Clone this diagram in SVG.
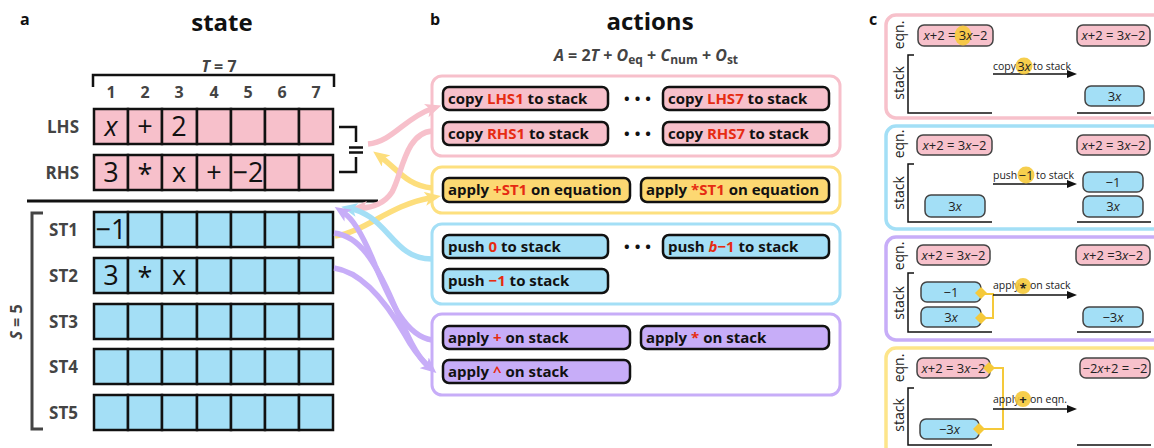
<svg xmlns="http://www.w3.org/2000/svg" width="1154" height="448" viewBox="0 0 1154 448">
<style>
text{font-family:'Open Sans','Noto Sans','DejaVu Sans',sans-serif;}
.plab{font-weight:700;font-size:16px;fill:#111}
.title{font-weight:700;font-size:24px;fill:#111;text-anchor:middle}
.hdr{font-weight:700;font-size:16px;fill:#444;text-anchor:middle}
.row{font-weight:700;font-size:17px;fill:#444;text-anchor:end}
.sym{font-size:27px;fill:#111;text-anchor:middle}
.grp{fill:#fff;stroke-width:3}
.btn{stroke:#111;stroke-width:2.5}
.bt{font-weight:700;font-size:15px;fill:#111}
.red{fill:#e62b12}
.ce{fill:#f7c1cb;stroke:#444;stroke-width:1.5}
.cs{fill:#a3dff6;stroke:#444;stroke-width:1.5}
.ct{font-size:13px;fill:#222;text-anchor:middle}
.al{font-size:10.5px;fill:#222}
.ax{font-size:14px;fill:#222;text-anchor:middle}
.hl{fill:#f5c93a;opacity:.9}
.dm{fill:#f5c93a}
.yl{fill:none;stroke:#f5c93a;stroke-width:2}
.conn{fill:none;stroke-width:5.5}
.brk{fill:none;stroke:#111;stroke-width:2.5}
.base{fill:none;stroke:#111;stroke-width:1.5}
.arr{stroke:#111;stroke-width:1.6}
</style>
<defs>
  <g id="cells">
    <rect x="94" y="0" width="34" height="35"/>
    <rect x="128" y="0" width="34" height="35"/>
    <rect x="162" y="0" width="35" height="35"/>
    <rect x="197" y="0" width="34" height="35"/>
    <rect x="231" y="0" width="34" height="35"/>
    <rect x="265" y="0" width="34" height="35"/>
    <rect x="299" y="0" width="34" height="35"/>
  </g>
  <marker id="hP" viewBox="0 0 16 14" markerWidth="16" markerHeight="14" markerUnits="userSpaceOnUse" refX="5" refY="7" orient="auto"><path d="M0,0 L16,7 L0,14 L4,7 z" fill="#f7c0cb"/></marker>
  <marker id="hY" viewBox="0 0 16 14" markerWidth="16" markerHeight="14" markerUnits="userSpaceOnUse" refX="5" refY="7" orient="auto"><path d="M0,0 L16,7 L0,14 L4,7 z" fill="#fdde7c"/></marker>
  <marker id="hB" viewBox="0 0 16 14" markerWidth="16" markerHeight="14" markerUnits="userSpaceOnUse" refX="5" refY="7" orient="auto"><path d="M0,0 L16,7 L0,14 L4,7 z" fill="#a4dff6"/></marker>
  <marker id="hV" viewBox="0 0 16 14" markerWidth="16" markerHeight="14" markerUnits="userSpaceOnUse" refX="5" refY="7" orient="auto"><path d="M0,0 L16,7 L0,14 L4,7 z" fill="#c7adf8"/></marker>
  <marker id="hK" viewBox="0 0 10 8" markerWidth="10" markerHeight="8" markerUnits="userSpaceOnUse" refX="1" refY="4" orient="auto"><path d="M0,0 L10,4 L0,8 z" fill="#111"/></marker>
</defs>

<!-- panel a: state -->
<g id="state">
  <text class="plab" x="20" y="25">a</text>
  <text class="title" x="222" y="31">state</text>
  <text class="hdr" x="219" y="72"><tspan font-style="italic">T</tspan> = 7</text>
  <path class="brk" d="M93,87 V75 H334 V87" stroke="#333"/>
  <g class="hdr">
    <text x="111" y="98">1</text><text x="145" y="98">2</text><text x="179" y="98">3</text>
    <text x="214" y="98">4</text><text x="248" y="98">5</text><text x="282" y="98">6</text><text x="316" y="98">7</text>
  </g>
  <g id="lhs">
    <text class="row" x="79" y="133">LHS</text>
    <use href="#cells" y="109" fill="#f7c0cb" stroke="#111" stroke-width="2.5"/>
    <text class="sym" x="111" y="136" font-style="italic">x</text>
    <text class="sym" x="145" y="136">+</text>
    <text class="sym" x="179" y="136">2</text>
  </g>
  <g id="rhs">
    <text class="row" x="79" y="179">RHS</text>
    <use href="#cells" y="155" fill="#f7c0cb" stroke="#111" stroke-width="2.5"/>
    <text class="sym" x="111" y="182">3</text>
    <text class="sym" x="145" y="184">*</text>
    <text class="sym" x="179" y="182">x</text>
    <text class="sym" x="214" y="182">+</text>
    <text class="sym" x="248" y="182">−2</text>
  </g>
  <g id="equals">
    <path class="brk" d="M339,127 H356 V142 M356,157 V172 H339"/>
    <path class="brk" d="M349,147.5 H363 M349,152.5 H363" stroke-width="2"/>
  </g>
  <line x1="27" y1="201" x2="378" y2="201" stroke="#111" stroke-width="3"/>
  <g id="stack">
    <path d="M43,213 H32 V429 H43" fill="none" stroke="#444" stroke-width="3"/>
    <text class="hdr" font-size="18" transform="translate(22,322) rotate(-90)"><tspan font-style="italic">S</tspan> = 5</text>
    <text class="row" x="78" y="236">ST1</text>
    <text class="row" x="78" y="282">ST2</text>
    <text class="row" x="78" y="328">ST3</text>
    <text class="row" x="78" y="373">ST4</text>
    <text class="row" x="78" y="419">ST5</text>
    <use href="#cells" y="212" fill="#a4dff6" stroke="#111" stroke-width="2.5"/>
    <use href="#cells" y="258" fill="#a4dff6" stroke="#111" stroke-width="2.5"/>
    <use href="#cells" y="304" fill="#a4dff6" stroke="#111" stroke-width="2.5"/>
    <use href="#cells" y="349" fill="#a4dff6" stroke="#111" stroke-width="2.5"/>
    <use href="#cells" y="395" fill="#a4dff6" stroke="#111" stroke-width="2.5"/>
    <text class="sym" x="111" y="239">−1</text>
    <text class="sym" x="111" y="285">3</text>
    <text class="sym" x="145" y="287">*</text>
    <text class="sym" x="179" y="285">x</text>
  </g>
</g>

<!-- panel b: actions -->
<g id="actions">
  <text class="plab" x="430" y="25">b</text>
  <text class="title" x="650" y="30">actions</text>
  <text class="hdr" x="646" y="61"><tspan font-style="italic">A</tspan> = 2<tspan font-style="italic">T</tspan> + <tspan font-style="italic">O</tspan><tspan font-size="12" dy="3">eq</tspan><tspan dy="-3"> + </tspan><tspan font-style="italic">C</tspan><tspan font-size="12" dy="3">num</tspan><tspan dy="-3"> + </tspan><tspan font-style="italic">O</tspan><tspan font-size="12" dy="3">st</tspan></text>

  <g id="copy-actions">
    <rect class="grp" x="432" y="76" width="408" height="80" rx="10" stroke="#f7c0cb"/>
    <rect class="btn" x="443" y="87" width="165" height="23" rx="6" fill="#f7c0cb"/>
    <text class="bt" x="448" y="104">copy <tspan class="red">LHS1</tspan> to stack</text>
    <text class="bt" x="640" y="104" text-anchor="middle" letter-spacing="5">•••</text>
    <rect class="btn" x="663" y="87" width="166" height="23" rx="6" fill="#f7c0cb"/>
    <text class="bt" x="668" y="104">copy <tspan class="red">LHS7</tspan> to stack</text>
    <rect class="btn" x="443" y="122" width="165" height="23" rx="6" fill="#f7c0cb"/>
    <text class="bt" x="448" y="139">copy <tspan class="red">RHS1</tspan> to stack</text>
    <text class="bt" x="640" y="139" text-anchor="middle" letter-spacing="5">•••</text>
    <rect class="btn" x="663" y="122" width="166" height="23" rx="6" fill="#f7c0cb"/>
    <text class="bt" x="668" y="139">copy <tspan class="red">RHS7</tspan> to stack</text>
  </g>

  <g id="equation-actions">
    <rect class="grp" x="432" y="167" width="408" height="46" rx="10" stroke="#fde07f"/>
    <rect class="btn" x="443" y="178" width="187" height="24" rx="6" fill="#fcd872"/>
    <text class="bt" x="448" y="195">apply <tspan class="red">+ST1</tspan> on equation</text>
    <rect class="btn" x="641" y="178" width="188" height="24" rx="6" fill="#fcd872"/>
    <text class="bt" x="646" y="195">apply <tspan class="red">*ST1</tspan> on equation</text>
  </g>

  <g id="push-actions">
    <rect class="grp" x="432" y="224" width="408" height="80" rx="10" stroke="#a4dff6"/>
    <rect class="btn" x="443" y="235" width="165" height="23" rx="6" fill="#a4dff6"/>
    <text class="bt" x="448" y="252">push <tspan class="red">0</tspan> to stack</text>
    <text class="bt" x="640" y="252" text-anchor="middle" letter-spacing="5">•••</text>
    <rect class="btn" x="663" y="235" width="166" height="23" rx="6" fill="#a4dff6"/>
    <text class="bt" x="668" y="252">push <tspan class="red"><tspan font-style="italic">b</tspan>−1</tspan> to stack</text>
    <rect class="btn" x="443" y="269" width="165" height="24" rx="6" fill="#a4dff6"/>
    <text class="bt" x="448" y="286">push <tspan class="red">−1</tspan> to stack</text>
  </g>

  <g id="stack-actions">
    <rect class="grp" x="432" y="314" width="408" height="81" rx="10" stroke="#c7adf8"/>
    <rect class="btn" x="443" y="326" width="187" height="23" rx="6" fill="#c7adf8"/>
    <text class="bt" x="448" y="343">apply <tspan class="red">+</tspan> on stack</text>
    <rect class="btn" x="641" y="326" width="188" height="23" rx="6" fill="#c7adf8"/>
    <text class="bt" x="646" y="343">apply <tspan class="red">*</tspan> on stack</text>
    <rect class="btn" x="443" y="360" width="187" height="23" rx="6" fill="#c7adf8"/>
    <text class="bt" x="448" y="377">apply <tspan class="red">^</tspan> on stack</text>
  </g>
</g>

<!-- connectors between state and actions -->
<g id="connectors">
  <path class="conn" stroke="#fdde7c" d="M432,188 C408,186 398,170 382,158" marker-end="url(#hY)"/>
  <path class="conn" stroke="#fdde7c" d="M335,236 C365,232 390,205 430,198" marker-end="url(#hY)"/>
  <path class="conn" stroke="#f7c0cb" d="M368,144 C392,142 405,118 431,109" marker-end="url(#hP)"/>
  <path class="conn" stroke="#f7c0cb" d="M432,131 C405,133 402,175 392,192 C385,203 372,208 362,208" marker-end="url(#hP)"/>
  <path class="conn" stroke="#a4dff6" d="M432,259 C400,259 392,232 370,217 C362,212 357,210 352,209" marker-end="url(#hB)"/>
  <path class="conn" stroke="#c7adf8" d="M334,268 C362,272 385,300 405,335 C412,348 420,358 428,366"/>
  <path class="conn" stroke="#c7adf8" d="M334,233 C360,236 375,262 392,300 C405,330 415,355 428,366" marker-end="url(#hV)"/>
  <path class="conn" stroke="#c7adf8" d="M432,340 C405,336 390,300 375,265 C365,240 355,220 344,213" marker-end="url(#hV)"/>
</g>

<!-- panel c: worked steps -->
<text class="plab" x="869" y="25">c</text>

<g id="step-copy">
  <rect x="886" y="15" width="290" height="103" rx="10" fill="#fff" stroke="#f7c1cb" stroke-width="3.5"/>
  <text class="ax" transform="translate(904,35) rotate(-90)">eqn.</text>
  <text class="ax" transform="translate(904,83) rotate(-90)">stack</text>
  <path class="base" d="M914,55 H908 V113 H992 M1077,113 H1151"/>
  <rect class="ce" x="918" y="25" width="75" height="21" rx="6"/>
  <ellipse class="hl" cx="963" cy="35.5" rx="8.5" ry="10"/>
  <text class="ct" x="955.5" y="40"><tspan font-style="italic">x</tspan>+2 = 3<tspan font-style="italic">x</tspan>−2</text>
  <rect class="ce" x="1077" y="25" width="73" height="21" rx="6"/>
  <text class="ct" x="1113.5" y="40"><tspan font-style="italic">x</tspan>+2 = 3<tspan font-style="italic">x</tspan>−2</text>
  <line class="arr" x1="993" y1="74" x2="1068" y2="74" marker-end="url(#hK)"/>
  <text class="al" x="993" y="70">copy</text>
  <circle class="hl" cx="1024" cy="66" r="8.5"/>
  <text class="ct" x="1024" y="71">3<tspan font-style="italic">x</tspan></text>
  <text class="al" x="1033" y="70">to stack</text>
  <rect class="cs" x="1085" y="86" width="59" height="20" rx="6"/>
  <text class="ct" x="1114.5" y="100.5">3<tspan font-style="italic">x</tspan></text>
</g>

<g id="step-push">
  <rect x="886" y="126" width="290" height="103" rx="10" fill="#fff" stroke="#a3dff6" stroke-width="3.5"/>
  <text class="ax" transform="translate(904,144) rotate(-90)">eqn.</text>
  <text class="ax" transform="translate(904,193) rotate(-90)">stack</text>
  <path class="base" d="M914,164 H908 V222 H992 M1077,222 H1151"/>
  <rect class="ce" x="917" y="135" width="75" height="20" rx="6"/>
  <text class="ct" x="954.5" y="149.5"><tspan font-style="italic">x</tspan>+2 = 3<tspan font-style="italic">x</tspan>−2</text>
  <rect class="ce" x="1077" y="135" width="73" height="20" rx="6"/>
  <text class="ct" x="1113.5" y="149.5"><tspan font-style="italic">x</tspan>+2 = 3<tspan font-style="italic">x</tspan>−2</text>
  <rect class="cs" x="925" y="195" width="60" height="22" rx="6"/>
  <text class="ct" x="955" y="210.5">3<tspan font-style="italic">x</tspan></text>
  <line class="arr" x1="993" y1="184" x2="1068" y2="184" marker-end="url(#hK)"/>
  <text class="al" x="993" y="179">push</text>
  <circle class="hl" cx="1026" cy="175" r="8.5"/>
  <text class="ct" x="1026" y="180">−1</text>
  <text class="al" x="1036" y="179">to stack</text>
  <rect class="cs" x="1083" y="172" width="60" height="20" rx="6"/>
  <text class="ct" x="1113" y="186.5">−1</text>
  <rect class="cs" x="1083" y="196" width="60" height="21" rx="6"/>
  <text class="ct" x="1113" y="211">3<tspan font-style="italic">x</tspan></text>
</g>

<g id="step-multiply">
  <rect x="886" y="237" width="290" height="103" rx="10" fill="#fff" stroke="#c7adf8" stroke-width="3.5"/>
  <text class="ax" transform="translate(904,256) rotate(-90)">eqn.</text>
  <text class="ax" transform="translate(904,303) rotate(-90)">stack</text>
  <path class="base" d="M914,273 H908 V332 H992 M1077,332 H1151"/>
  <rect class="ce" x="917" y="245" width="73" height="20" rx="6"/>
  <text class="ct" x="953.5" y="259.5"><tspan font-style="italic">x</tspan>+2 = 3<tspan font-style="italic">x</tspan>−2</text>
  <rect class="ce" x="1076" y="245" width="74" height="20" rx="6"/>
  <text class="ct" x="1113" y="259.5"><tspan font-style="italic">x</tspan>+2 =3<tspan font-style="italic">x</tspan>−2</text>
  <rect class="cs" x="921" y="282" width="60" height="20" rx="6"/>
  <text class="ct" x="951" y="296.5">−1</text>
  <rect class="cs" x="921" y="307" width="60" height="20" rx="6"/>
  <text class="ct" x="951" y="321.5">3<tspan font-style="italic">x</tspan></text>
  <path class="yl" d="M981,294 H993 V318 H981"/>
  <path class="dm" d="M981,287 L987,293 L981,299 L975,293 z"/>
  <path class="dm" d="M981,312 L987,318 L981,324 L975,318 z"/>
  <line class="arr" x1="993" y1="295" x2="1068" y2="295" marker-end="url(#hK)"/>
  <text class="al" x="993" y="289">apply</text>
  <circle class="hl" cx="1023" cy="286" r="8"/>
  <text class="ct" x="1023" y="293" font-weight="700" font-size="15">*</text>
  <text class="al" x="1030" y="289">on stack</text>
  <rect class="cs" x="1083" y="307" width="60" height="20" rx="6"/>
  <text class="ct" x="1113" y="321.5">−3<tspan font-style="italic">x</tspan></text>
</g>

<g id="step-apply">
  <rect x="886" y="348" width="290" height="110" rx="10" fill="#fff" stroke="#fde58a" stroke-width="3.5"/>
  <text class="ax" transform="translate(904,368) rotate(-90)">eqn.</text>
  <text class="ax" transform="translate(904,415) rotate(-90)">stack</text>
  <path class="base" d="M914,388 H908 V445 H992 M1077,445 H1151"/>
  <rect class="ce" x="917" y="358" width="73" height="20" rx="6"/>
  <text class="ct" x="953.5" y="372.5"><tspan font-style="italic">x</tspan>+2 = 3<tspan font-style="italic">x</tspan>−2</text>
  <rect class="ce" x="1080" y="358" width="70" height="20" rx="6"/>
  <text class="ct" x="1115" y="372.5">−2<tspan font-style="italic">x</tspan>+2 = −2</text>
  <rect class="cs" x="920" y="419" width="59" height="20" rx="6"/>
  <text class="ct" x="949.5" y="433.5">−3<tspan font-style="italic">x</tspan></text>
  <path class="yl" d="M989,368 H1003 V429 H979"/>
  <path class="dm" d="M989,362 L995,368 L989,374 L983,368 z"/>
  <path class="dm" d="M979,423 L985,429 L979,435 L973,429 z"/>
  <line class="arr" x1="993" y1="409" x2="1068" y2="409" marker-end="url(#hK)"/>
  <text class="al" x="993" y="403">apply</text>
  <circle class="hl" cx="1023" cy="399" r="8"/>
  <text class="ct" x="1023" y="404" font-weight="700" font-size="15">+</text>
  <text class="al" x="1030" y="403">on eqn.</text>
</g>
</svg>
